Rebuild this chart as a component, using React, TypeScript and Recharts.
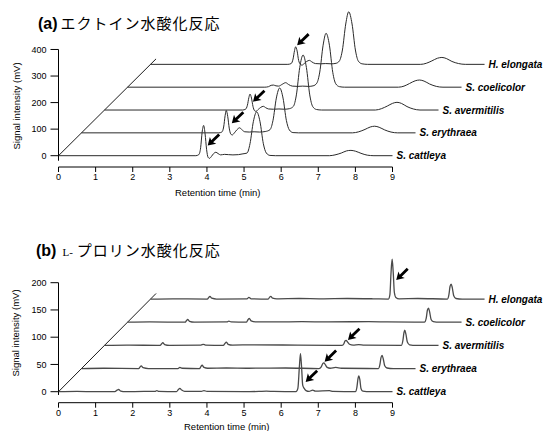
import React from "react";
import { LineChart, Line, XAxis, YAxis, ReferenceLine, ReferenceDot } from "recharts";

// strains, bottom trace first
const strains = ["S. cattleya", "S. erythraea", "S. avermitilis", "S. coelicolor", "H. elongata"];
const timeTicks = [0, 1, 2, 3, 4, 5, 6, 7, 8, 9];
const ectoineTicks = [0, 100, 200, 300, 400];
const prolineTicks = [0, 50, 100, 150, 200];

// (a) ectoine hydroxylation, [min, mV]
const ectoineCattleya = [
  [0, 0], [3.7, 0], [3.78, 4], [3.83, 30], [3.87, 88], [3.91, 114], [3.95, 82], [3.99, 24], [4.03, -6], [4.07, -10],
  [4.12, -3], [4.18, 8], [4.24, 13], [4.3, 8], [4.37, 3], [4.47, 5], [4.58, 4], [4.7, 3], [4.85, 4], [4.97, 7],
  [5.08, 10], [5.16, 45], [5.25, 128], [5.34, 165], [5.43, 128], [5.52, 45], [5.6, 10], [5.7, 1], [5.85, 0],
  [7.3, 0], [7.45, 3], [7.62, 10], [7.76, 18], [7.88, 20], [8.0, 17], [8.15, 9], [8.32, 2], [8.5, 0], [9, 0],
];
const ectoineErythraea = [
  [0, 0], [3.7, 0], [3.78, 3], [3.83, 22], [3.87, 65], [3.9, 84], [3.94, 62], [3.98, 18], [4.02, -4], [4.06, -8],
  [4.12, 0], [4.19, 12], [4.26, 19], [4.32, 12], [4.4, 4], [4.52, 3], [4.65, 4], [4.8, 3], [4.95, 5],
  [5.08, 12], [5.16, 47], [5.25, 131], [5.34, 169], [5.43, 131], [5.52, 47], [5.6, 11], [5.7, 1], [5.85, 0],
  [7.3, 0], [7.47, 4], [7.64, 13], [7.78, 22], [7.9, 25], [8.02, 21], [8.17, 11], [8.34, 3], [8.52, 0], [9, 0],
];
const ectoineAvermitilis = [
  [0, 0], [3.72, 0], [3.8, 3], [3.85, 18], [3.89, 47], [3.92, 60], [3.96, 45], [4.0, 14], [4.04, -2], [4.08, -5],
  [4.14, 2], [4.21, 10], [4.28, 14], [4.34, 9], [4.42, 4], [4.55, 3], [4.7, 4], [4.85, 3], [4.98, 5],
  [5.09, 14], [5.17, 57], [5.26, 160], [5.35, 207], [5.44, 160], [5.53, 57], [5.61, 13], [5.71, 2], [5.85, 0],
  [7.3, 0], [7.46, 5], [7.62, 15], [7.76, 25], [7.88, 29], [8.0, 25], [8.15, 13], [8.32, 4], [8.5, 0], [9, 0],
];
const ectoineCoelicolor = [
  [0, 0], [3.7, 0], [3.8, 2], [3.87, 7], [3.93, 8], [4.0, 5], [4.07, 4], [4.17, 11], [4.26, 17], [4.34, 10],
  [4.44, 4], [4.58, 3], [4.72, 4], [4.88, 3], [5.0, 5],
  [5.1, 15], [5.18, 57], [5.27, 158], [5.35, 203], [5.44, 158], [5.53, 56], [5.61, 13], [5.71, 2], [5.85, 0],
  [7.3, 0], [7.45, 4], [7.6, 14], [7.75, 24], [7.87, 27], [7.99, 23], [8.14, 12], [8.32, 3], [8.5, 0], [9, 0],
];
const ectoineElongata = [
  [0, 0], [3.7, 0], [3.79, 3], [3.84, 20], [3.88, 52], [3.91, 66], [3.95, 50], [3.99, 15], [4.04, 0], [4.08, -3],
  [4.14, 3], [4.21, 11], [4.28, 15], [4.35, 9], [4.44, 3], [4.58, 2], [4.72, 3], [4.88, 2], [5.0, 4],
  [5.09, 13], [5.17, 54], [5.26, 152], [5.34, 198], [5.43, 152], [5.52, 54], [5.6, 12], [5.7, 2], [5.85, 0],
  [7.28, 0], [7.43, 4], [7.58, 13], [7.73, 23], [7.85, 26], [7.97, 22], [8.12, 11], [8.3, 3], [8.48, 0], [9, 0],
];

// (b) L-proline hydroxylation, [min, mV]
const prolineCattleya = [
  [0, 0], [0.5, 0.5], [1.0, 0], [1.52, 0], [1.58, 3], [1.62, 4], [1.68, 1], [1.8, 0], [2.3, 0.5], [2.6, 0.5],
  [2.65, 2], [2.7, 0.5], [3.18, 0], [3.23, 4], [3.27, 6], [3.32, 3], [3.4, 0.5], [3.85, 0.5], [3.92, 2], [4.0, 0.5],
  [5.0, 0], [5.4, 0.5], [5.6, 1], [5.8, 0.5], [6.4, 0], [6.45, 6], [6.49, 45], [6.52, 70], [6.55, 45], [6.58, 12],
  [6.62, 6], [6.67, 2], [6.75, 0.5], [6.85, 3], [6.92, 1], [7.3, 2], [7.4, 0.5], [8.0, 0], [8.04, 8], [8.07, 24],
  [8.09, 29], [8.12, 22], [8.15, 6], [8.2, 1], [8.4, 0], [9, 0],
];
const prolineErythraea = [
  [0, 0], [0.6, 0.5], [1.54, 0], [1.58, 3], [1.61, 5], [1.66, 1.5], [1.8, 0], [2.6, 0], [2.65, 2], [2.71, 0.5],
  [3.18, 0], [3.22, 4], [3.25, 6], [3.3, 2], [3.4, 0.5], [3.9, 1], [4.5, 0.5], [5.5, 1], [6.4, 0], [6.46, 3],
  [6.5, 9], [6.53, 10.5], [6.57, 7], [6.62, 2], [6.7, 0.5], [6.85, 2], [7.0, 0.5], [8.0, 0], [8.04, 7], [8.07, 20],
  [8.1, 24], [8.13, 18], [8.17, 5], [8.23, 1], [8.4, 0], [9, 0],
];
const prolineAvermitilis = [
  [0, 0], [0.6, 0.5], [1.5, 0], [1.54, 3], [1.57, 5], [1.62, 1.5], [1.75, 0], [2.6, 0.5], [2.66, 2], [2.72, 0.5],
  [3.2, 0], [3.25, 4], [3.28, 6], [3.33, 2], [3.45, 0.5], [4.0, 1], [5.2, 0.5], [6.4, 0], [6.45, 3], [6.48, 8],
  [6.51, 9], [6.55, 6], [6.6, 2], [6.7, 0.5], [6.85, 1.5], [7.0, 0.5], [8.0, 0], [8.04, 9], [8.07, 24], [8.09, 28],
  [8.12, 21], [8.16, 6], [8.22, 1], [8.4, 0], [9, 0],
];
const prolineCoelicolor = [
  [0, 0], [0.6, 0.5], [1.55, 0], [1.59, 3], [1.62, 5], [1.67, 1.5], [1.8, 0], [2.68, 0.5], [2.73, 2], [2.79, 0.5],
  [3.2, 0], [3.25, 5], [3.28, 7], [3.33, 2.5], [3.45, 0.5], [4.0, 0.5], [4.7, 1], [5.4, 0.5], [6.5, 1], [7.0, 0.5],
  [8.0, 0], [8.05, 8], [8.08, 22], [8.11, 26], [8.14, 19], [8.18, 5], [8.24, 1], [8.4, 0], [9, 0],
];
const prolineElongata = [
  [0, 0], [0.6, 0.5], [1.53, 0], [1.57, 3], [1.6, 5], [1.65, 1.5], [1.78, 0], [2.6, 0.5], [2.65, 3], [2.71, 0.5],
  [3.17, 0], [3.21, 3.5], [3.24, 5], [3.29, 1.5], [3.4, 0.5], [4.0, 1], [4.6, 0.5], [5.3, 1], [6.0, 0.5], [6.41, 0],
  [6.45, 8], [6.48, 48], [6.51, 73], [6.54, 48], [6.57, 12], [6.61, 3], [6.7, 0.5], [7.2, 1], [8.0, 0], [8.04, 8],
  [8.07, 23], [8.1, 27.5], [8.13, 21], [8.17, 6], [8.23, 1], [8.4, 0], [9, 0],
];

// arrows: [trace index, min, mV] of the arrow tip
const ectoineArrows = [[0, 4.02, 38], [1, 4.05, 36], [2, 4.0, 31], [4, 3.95, 72]];
const prolineArrows = [[0, 6.66, 18], [1, 6.55, 12.5], [2, 6.56, 10], [4, 6.62, 35]];

const FONT = "'Liberation Sans', Arial, Helvetica, sans-serif";
const JP = "'Noto Sans CJK JP', sans-serif";
const SHIFT_T = 0.62; // horizontal stagger per trace (min)

const shift = (pts: number[][], k: number, step: number) =>
  pts.map(([t, v]) => ({ t: t + k * SHIFT_T, v: v + k * step }));

const Arrow = (p: any) => (
  <g transform={`translate(${p.cx},${p.cy}) rotate(136)`}>
    <path d="M0,0 L-7.5,-4.6 L-6.2,-1.4 L-16,-1.4 L-16,1.4 L-6.2,1.4 L-7.5,4.6 Z" fill="#000" />
  </g>
);

const nameTag = (name: string) => (p: any) => (
  <text x={p.cx + 4} y={p.cy} dy="0.35em" fontSize={10} fontWeight="bold" fontStyle="italic" fontFamily={FONT} fill="#000">
    {name}
  </text>
);

type PanelProps = {
  traces: number[][][];
  step: number;
  yDomain: [number, number];
  yTicks: number[];
  yTop: number;
  axisMin: number;
  arrows: number[][];
  height: number;
  margin: { top: number; right: number; bottom: number; left: number };
  labelOffset: number;
  labelDx: number;
  stroke: string;
  strokeWidth: number;
};

function Panel(props: PanelProps) {
  const { traces, step, yDomain, yTicks, yTop, axisMin, arrows, height, margin, labelOffset, labelDx, stroke, strokeWidth } = props;
  const diagK = 4.24;
  return (
    <LineChart width={543} height={height} margin={margin} style={{ fontFamily: FONT }}>
      <XAxis
        type="number"
        dataKey="t"
        domain={[0, 11.6]}
        ticks={timeTicks}
        axisLine={false}
        tickLine={{ stroke: "#000" }}
        tickSize={5}
        tickMargin={2}
        height={30}
        tick={{ fontSize: 9, fill: "#000", fontFamily: FONT }}
        label={{ value: "Retention time (min)", position: "insideBottom", offset: labelOffset, dx: labelDx, fontSize: 9.5, fill: "#000" }}
      />
      <YAxis
        type="number"
        domain={yDomain}
        ticks={yTicks}
        width={58.5}
        axisLine={false}
        tickLine={{ stroke: "#000" }}
        tickSize={8}
        tickMargin={4}
        tick={{ fontSize: 9, fill: "#000", fontFamily: FONT }}
      />
      <ReferenceLine segment={[{ x: 0, y: axisMin }, { x: 0, y: yTop }]} stroke="#000" ifOverflow="visible" />
      <ReferenceLine segment={[{ x: 0, y: yDomain[0] }, { x: 9, y: yDomain[0] }]} stroke="#000" ifOverflow="visible" />
      <ReferenceLine segment={[{ x: 0, y: 0 }, { x: diagK * SHIFT_T, y: diagK * step }]} stroke="#000" strokeWidth={0.9} ifOverflow="visible" />
      {traces.map((tr, k) => (
        <Line
          key={strains[k]}
          data={shift(tr, k, step)}
          dataKey="v"
          type="monotone"
          dot={false}
          stroke={stroke}
          strokeWidth={strokeWidth}
          isAnimationActive={false}
        />
      ))}
      {traces.map((tr, k) => (
        <ReferenceDot key={"n" + k} x={9 + k * SHIFT_T} y={k * step} r={0} shape={nameTag(strains[k])} ifOverflow="visible" />
      ))}
      {arrows.map(([k, t, v], i) => (
        <ReferenceDot key={"a" + i} x={t + k * SHIFT_T} y={v + k * step} r={0} shape={Arrow} ifOverflow="visible" />
      ))}
    </LineChart>
  );
}

const yLabel: React.CSSProperties = {
  position: "absolute",
  transform: "translate(-50%,-50%) rotate(-90deg)",
  fontSize: 9.5,
  whiteSpace: "nowrap",
  fontFamily: FONT,
  color: "#000",
};

export default function App() {
  return (
    <div style={{ position: "absolute", left: 0, top: 0, width: 543, height: 431, overflow: "hidden", background: "#fff" }}>
      <div style={{ position: "absolute", left: 38, top: 12, whiteSpace: "nowrap", lineHeight: "22px" }}>
        <span style={{ fontFamily: FONT, fontWeight: "bold", fontSize: 16 }}>(a)</span>
        <span style={{ fontFamily: JP, fontSize: 15, letterSpacing: 1, marginLeft: 3 }}>エクトイン水酸化反応</span>
      </div>
      <div style={{ ...yLabel, left: 16, top: 106 }}>Signal intensity (mV)</div>
      <div style={{ position: "absolute", left: 0, top: 0 }}>
        <Panel
          traces={[ectoineCattleya, ectoineErythraea, ectoineAvermitilis, ectoineCoelicolor, ectoineElongata]}
          step={86}
          yDomain={[-42.6, 560]}
          yTicks={ectoineTicks}
          yTop={400}
          axisMin={-19}
          arrows={ectoineArrows}
          height={215}
          margin={{ top: 7, right: 54, bottom: 18, left: 0 }}
          labelOffset={1}
          labelDx={-56}
          stroke="#2a2a2a"
          strokeWidth={1}
        />
      </div>

      <div style={{ position: "absolute", left: 36, top: 239, whiteSpace: "nowrap", lineHeight: "22px" }}>
        <span style={{ fontFamily: FONT, fontWeight: "bold", fontSize: 16 }}>(b)</span>
        <span style={{ fontFamily: "'Liberation Serif', serif", fontSize: 11, marginLeft: 6 }}>L-</span>
        <span style={{ fontFamily: JP, fontSize: 15, letterSpacing: 1, marginLeft: 4 }}>プロリン水酸化反応</span>
      </div>
      <div style={{ ...yLabel, left: 15, top: 333 }}>Signal intensity (mV)</div>
      <div style={{ position: "absolute", left: 0, top: 215 }}>
        <Panel
          traces={[prolineCattleya, prolineErythraea, prolineAvermitilis, prolineCoelicolor, prolineElongata]}
          step={42.5}
          yDomain={[-20.2, 250]}
          yTicks={prolineTicks}
          yTop={200}
          axisMin={-6}
          arrows={prolineArrows}
          height={220}
          margin={{ top: 40.45, right: 54, bottom: 2.3, left: 0 }}
          labelOffset={2.3}
          labelDx={-47}
          stroke="#4a4a4a"
          strokeWidth={1.3}
        />
      </div>
    </div>
  );
}
